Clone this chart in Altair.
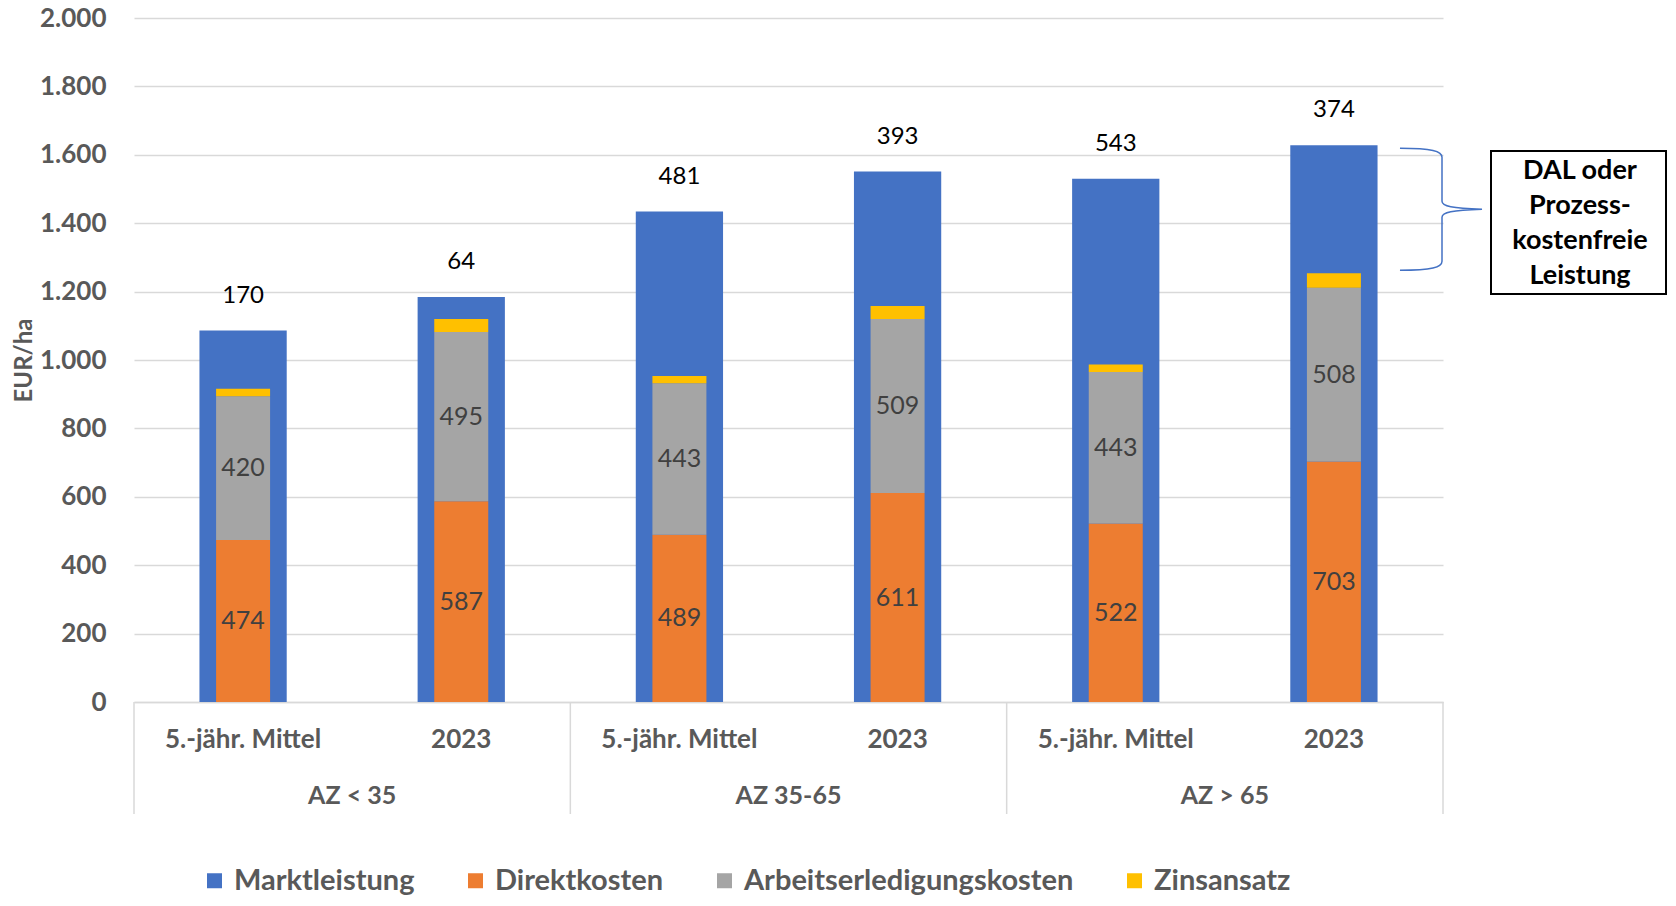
import altair as alt
import pandas as pd

# ---------------- data ----------------
groups = ["AZ < 35", "AZ 35-65", "AZ > 65"]
periods = ["5.-jähr. Mittel", "2023"]
marktleistung = [1086, 1184, 1434, 1551, 1530, 1628]
direktkosten = [474, 587, 489, 611, 522, 703]
arbeitskosten = [420, 495, 443, 509, 443, 508]
zinsansatz = [22, 38, 21, 38, 22, 43]
dal_labels = [170, 64, 481, 393, 543, 374]
series = ["Marktleistung", "Direktkosten", "Arbeitserledigungskosten", "Zinsansatz"]
colors = ["#4472C4", "#ED7D31", "#A5A5A5", "#FFC000"]
y_ticks = list(range(0, 2001, 200))
box_text = "DAL oder\nProzess-\nkostenfreie\nLeistung"

keys = [f"{g}|{p}" for g in groups for p in periods]

rows = []
for i, k in enumerate(keys):
    rows.append({"key": k, "Kategorie": "Marktleistung", "Wert": marktleistung[i], "ord": 0})
    rows.append({"key": k, "Kategorie": "Direktkosten", "Wert": direktkosten[i], "ord": 1})
    rows.append({"key": k, "Kategorie": "Arbeitserledigungskosten", "Wert": arbeitskosten[i], "ord": 2})
    rows.append({"key": k, "Kategorie": "Zinsansatz", "Wert": zinsansatz[i], "ord": 3})
long_df = pd.DataFrame(rows)

inner_labels = []
for i, k in enumerate(keys):
    inner_labels.append({"key": k, "Wert": direktkosten[i] / 2, "txt": str(direktkosten[i])})
    inner_labels.append({"key": k, "Wert": direktkosten[i] + arbeitskosten[i] / 2, "txt": str(arbeitskosten[i])})
inner_df = pd.DataFrame(inner_labels)

top_df = pd.DataFrame({"key": keys, "Wert": marktleistung, "txt": [str(v) for v in dal_labels]})

grp_df = pd.DataFrame({"Gruppe": groups})

last = len(keys) - 1
brace_df = pd.DataFrame({"Wert": [(direktkosten[last] + arbeitskosten[last] + zinsansatz[last] + marktleistung[last]) / 2]})
one_df = pd.DataFrame({"t": [box_text]})

# ---------------- styling ----------------
FONT = "Lato"
GRAY = "#595959"
GRID = "#d9d9d9"

y_axis = alt.Axis(
    values=y_ticks, domain=False, ticks=False, grid=True, gridColor=GRID, gridWidth=1.5,
    labelFont=FONT, labelFontWeight="bold", labelFontSize=26, labelColor=GRAY, labelPadding=28,
    labelExpr="replace(format(datum.value, ','), ',', '.')",
    titleFont=FONT, titleFontWeight="bold", titleFontSize=24, titleColor=GRAY,
    titleX=-110, titleY=342, titleAngle=-90, titleAlign="center", titleBaseline="middle",
)
y_scale = alt.Scale(domain=[0, 2000], nice=False)

x_axis = alt.Axis(
    title=None, labelExpr="split(datum.value, '|')[1]", labelAngle=0,
    labelFont=FONT, labelFontWeight="bold", labelFontSize=26, labelColor=GRAY,
    labelPadding=37, labelBaseline="middle", ticks=False, tickSize=0,
    domain=True, domainColor=GRID, domainWidth=1.5, grid=False,
    labelOverlap=False, labelLimit=400,
)
x_scale = alt.Scale(paddingInner=0.6, paddingOuter=0.3)

def X():
    return alt.X("key:N", sort=keys, scale=x_scale, axis=x_axis)

def Y(stack=None):
    if stack is None:
        return alt.Y("Wert:Q", scale=y_scale, axis=y_axis, title="EUR/ha", stack=None)
    return alt.Y("Wert:Q", scale=y_scale, axis=y_axis, title="EUR/ha", stack="zero")

color = alt.Color(
    "Kategorie:N",
    scale=alt.Scale(domain=series, range=colors),
    legend=alt.Legend(
        title=None, orient="none", direction="horizontal", legendX=66, legendY=848,
        labelFont=FONT, labelFontWeight="bold", labelFontSize=29, labelColor=GRAY,
        symbolType="square", symbolSize=225, symbolStrokeWidth=0, labelOffset=5,
        columnPadding=46, padding=0, labelLimit=600,
    ),
)

outer = alt.Chart(long_df).transform_filter("datum.Kategorie == 'Marktleistung'").mark_bar().encode(
    x=X(), y=Y(), color=color
)
inner = alt.Chart(long_df).transform_filter("datum.Kategorie != 'Marktleistung'").mark_bar(size=54).encode(
    x=X(), y=Y("zero"), color=color, order=alt.Order("ord:Q")
)
inner_txt = alt.Chart(inner_df).mark_text(
    font=FONT, fontSize=25, color="#404040", baseline="middle"
).encode(x=X(), y=Y(), text="txt:N")
top_txt = alt.Chart(top_df).mark_text(
    font=FONT, fontSize=24, color="#000000", baseline="middle", dy=-35
).encode(x=X(), y=Y(), text="txt:N")

bars_layer = alt.layer(outer, inner, inner_txt, top_txt)

gscale = alt.Scale(type="band", paddingInner=0, paddingOuter=0)
grp_rules = alt.Chart(grp_df).mark_rule(color=GRID, strokeWidth=1.5).encode(
    x=alt.X("Gruppe:N", sort=groups, scale=gscale, axis=None, bandPosition=0),
    y=alt.value(684), y2=alt.value(796),
)
grp_rule_end = alt.Chart(grp_df).transform_filter(f"datum.Gruppe == '{groups[-1]}'").mark_rule(
    color=GRID, strokeWidth=1.5
).encode(
    x=alt.X("Gruppe:N", sort=groups, scale=gscale, axis=None, bandPosition=1),
    y=alt.value(684), y2=alt.value(796),
)
grp_txt = alt.Chart(grp_df).mark_text(
    font=FONT, fontWeight="bold", fontSize=25, color=GRAY, baseline="middle"
).encode(
    x=alt.X("Gruppe:N", sort=groups, scale=gscale, axis=None, bandPosition=0.5),
    y=alt.value(778), text="Gruppe:N",
)
grp_layer = alt.layer(grp_rules, grp_rule_end, grp_txt)

brace_path = ("M -0.689 -1 C -0.164 -1 0 -0.951 0 -0.852 L 0 -0.131 C 0 -0.049 0.164 -0.016 0.656 0 "
              "C 0.164 0.016 0 0.049 0 0.131 L 0 0.852 C 0 0.951 -0.164 1 -0.689 1")
brace = alt.Chart(brace_df).mark_point(
    shape=brace_path, size=14884, filled=False, stroke="#4472C4", strokeWidth=1.5, opacity=1
).encode(x=alt.value(1308), y=Y())

box = alt.Chart(one_df).mark_rect(fill="white", stroke="black", strokeWidth=2).encode(
    x=alt.value(1357), x2=alt.value(1532), y=alt.value(133), y2=alt.value(276)
)
box_txt = alt.Chart(one_df).mark_text(
    font=FONT, fontWeight="bold", fontSize=27, color="black", lineBreak="\n", lineHeight=35,
    baseline="middle", align="center"
).encode(x=alt.value(1446), y=alt.value(153), text="t:N")

chart = alt.layer(bars_layer, grp_layer, brace, box, box_txt).resolve_scale(x="independent").properties(
    width=1309, height=684,
    autosize=alt.AutoSizeParams(type="none"),
    padding={"left": 126, "top": 10, "right": 225, "bottom": 196},
    background="white",
).configure_view(stroke=None)

chart.save("out.html", embed_options={"renderer": "svg", "actions": False})
